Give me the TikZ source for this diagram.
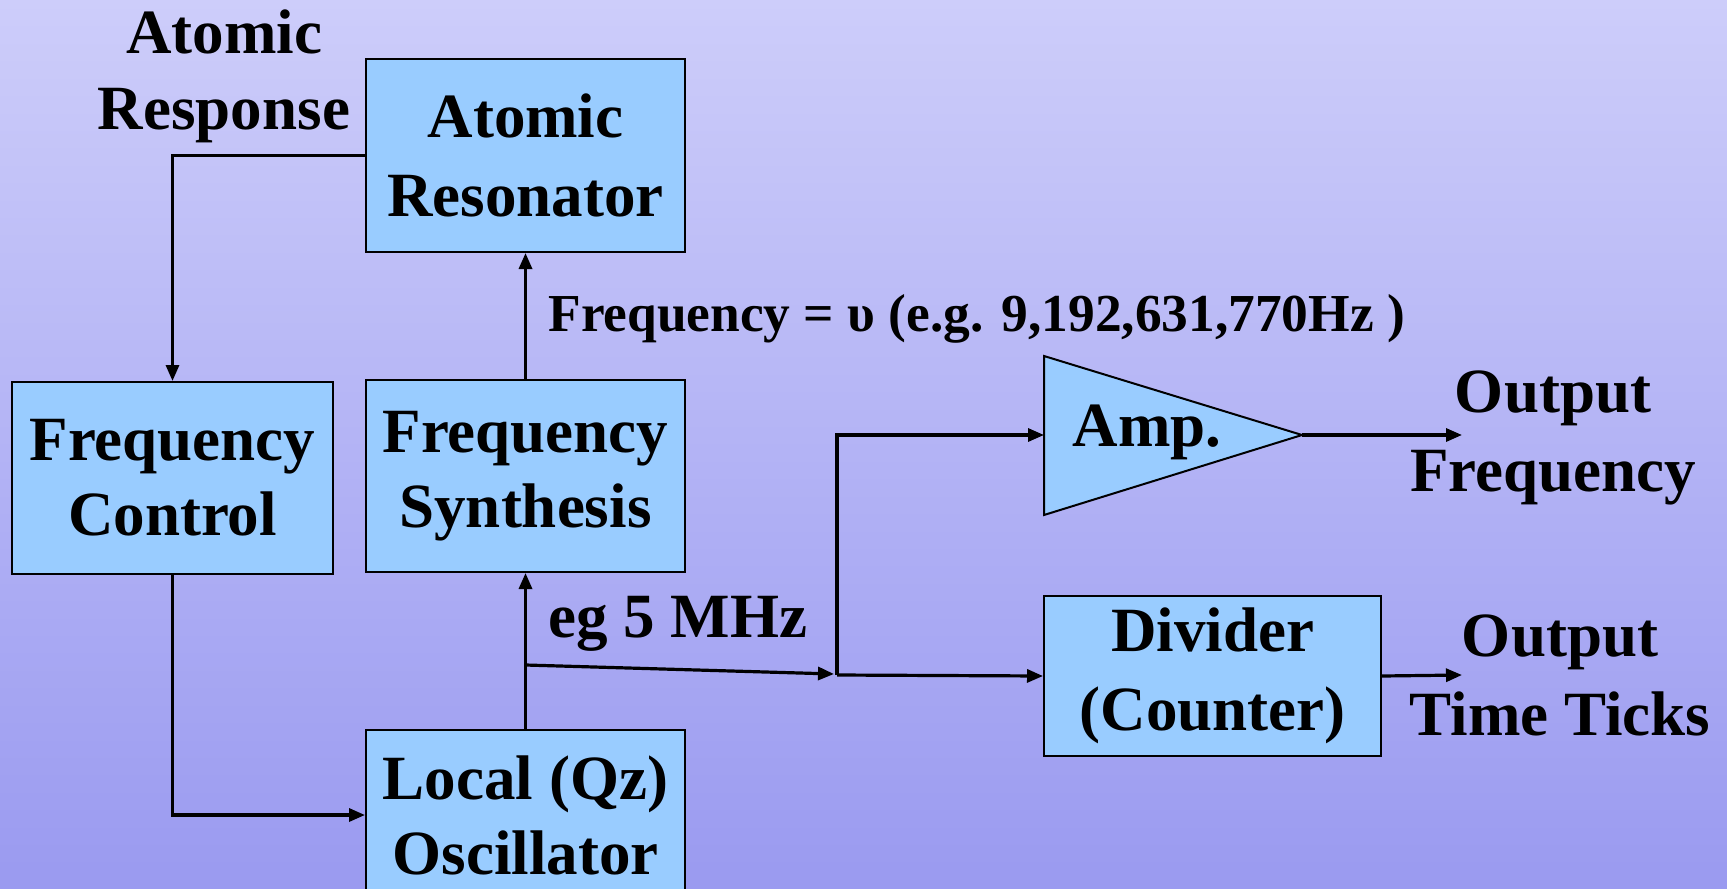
\documentclass[tikz,border=0pt]{standalone}
\usepackage{fontspec}
\setmainfont{Liberation Serif}
\usepackage{xcolor}
\usetikzlibrary{arrows.meta, positioning, calc}
\definecolor{bgtop}{RGB}{205, 205, 250}
\definecolor{bgbot}{RGB}{154, 154, 240}
\definecolor{boxfill}{RGB}{153, 204, 255}
\tikzset{
    block/.style={rectangle, draw=black, line width=1pt, fill=boxfill, align=center, font=\fontsize{31.5}{37.5}\selectfont\bfseries, inner sep=0pt},
    wideblock/.style={block, font=\fontsize{31.5}{39.5}\selectfont\bfseries},
    lbl/.style={align=center, font=\fontsize{31.5}{38}\selectfont\bfseries, inner sep=0pt},
    outlbl/.style={lbl, font=\fontsize{31.5}{39.5}\selectfont\bfseries},
    arr/.style={-{Triangle[length=8pt, width=6.5pt]}, line width=1.6pt, black}
}

\begin{document}
\begin{tikzpicture}[x=0.5pt, y=-0.5pt]
        % background
        \shade[top color=bgtop, bottom color=bgbot] (0,0) rectangle (1727,888);
        \useasboundingbox (0,0) rectangle (1727,888);
        \clip (0,0) rectangle (1727,888);
        % blocks
        \node[wideblock, minimum width=159.5pt, minimum height=96.5pt] (res) at (525.5,155.5) {Atomic\\Resonator};
        \node[block, minimum width=160.5pt, minimum height=96pt] (ctrl) at (172.5,478) {Frequency\\Control};
        \node[block, minimum width=159.5pt, minimum height=96pt] (synth) at (525.5,476) {Frequency\\Synthesis};
        \node[block, minimum width=159.5pt, minimum height=85pt] (osc) at (525.5,815) {Local (Qz)\\Oscillator};
        \node[wideblock, minimum width=168.5pt, minimum height=80pt] (div) at (1212.5,676) {Divider\\(Counter)};
        % amplifier
        \coordinate (amptop) at (1044,356);
        \coordinate (ampbot) at (1044,515);
        \coordinate (amptip) at (1302,435);
        \coordinate (ampin) at (1044,435);
        \draw[fill=boxfill, line width=1pt] (amptop) -- (amptip) -- (ampbot) -- cycle;
        \node[lbl] (amp) at (1147,432) {Amp.};
        % labels
        \node[lbl] (resp) at (224,76) {Atomic\\Response};
        \node[lbl, anchor=west, font=\fontsize{26.7}{30}\selectfont\bfseries] (freq) at (548,319) {Frequency = υ (e.g. 9,192,631,770Hz )};
        \node[lbl, anchor=west] (mhz) at (548,624) {eg 5 MHz};
        \node[outlbl] (outf) at (1553,438) {Output\\Frequency};
        \node[outlbl] (outt) at (1560,675) {Output\\Time Ticks};
        % connectors
        \coordinate (tap) at ($(osc.north)+(0,-64)$);
        \coordinate (fork) at (837,675);
        \coordinate (fend) at (1462,435);
        \coordinate (tend) at (1462,675);
        \draw[arr] (res.west) -| (ctrl.north);
        \draw[arr] (ctrl.south) |- (osc.west);
        \draw[arr] (osc.north) -- (synth.south);
        \draw[arr] (synth.north) -- (res.south);
        \draw[arr] (tap) -- ($(fork)+(-3,-1)$);
        \draw[arr] (fork) |- (ampin);
        \draw[arr] (fork) -- (div.west);
        \draw[arr] (amptip) -- (fend);
        \draw[arr] (div.east) -- (tend);
    \end{tikzpicture}
\end{document}
